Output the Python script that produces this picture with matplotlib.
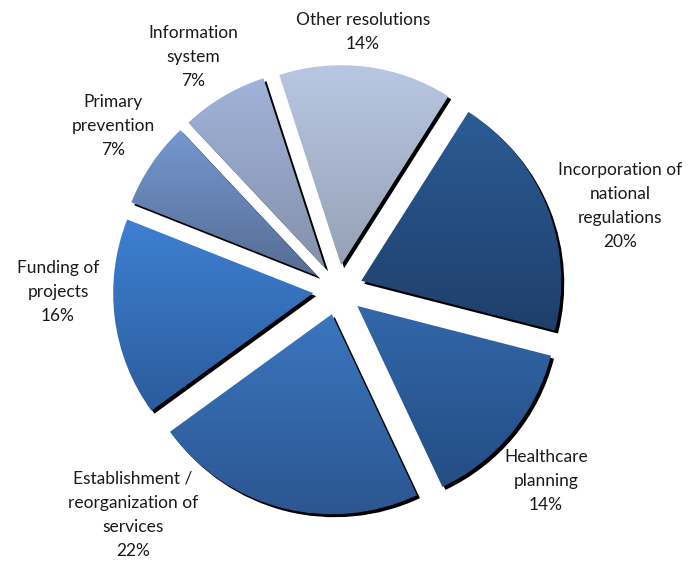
import matplotlib
matplotlib.use("Agg")
import matplotlib.pyplot as plt
import numpy as np
from matplotlib.colors import LinearSegmentedColormap
from matplotlib.patches import Wedge

plt.rcParams['font.family'] = ['Lato', 'DejaVu Sans']

categories = [
    "Other resolutions",
    "Incorporation of\nnational\nregulations",
    "Healthcare\nplanning",
    "Establishment /\nreorganization of\nservices",
    "Funding of\nprojects",
    "Primary\nprevention",
    "Information\nsystem",
]
shares = [14, 20, 14, 22, 16, 7, 7]

# top / bottom colour of the vertical gradient inside each slice
top_colors = ["#b9c7e3", "#2c5b94", "#3267a9", "#3b76bf", "#3e80d2", "#7598d1", "#a1b3da"]
bottom_colors = ["#96a1b5", "#1f3f6b", "#244d83", "#2b558f", "#2b5c9b", "#566c93", "#8491ab"]

# label anchor points (pie radius = 1)
label_pos = [(0.125, 1.29), (1.41, 0.42), (1.04, -0.955), (-1.025, -1.125),
             (-1.40, -0.01), (-1.125, 0.82), (-0.725, 1.165)]

fig = plt.figure(figsize=(6.92, 5.61), dpi=100)
ax = fig.add_axes([0, 0, 1, 1])

wedges, _ = ax.pie(shares, startangle=108, counterclock=False, radius=1,
                   explode=[0.125] * len(shares),
                   wedgeprops=dict(facecolor="none", edgecolor="none"))

grad = np.linspace(1, 0, 256).reshape(-1, 1)
for w in wedges:
    cx, cy = w.center
    # drop shadow, offset right and down
    shadow = Wedge((cx + 0.015, cy - 0.015), w.r, w.theta1, w.theta2,
                   facecolor="black", edgecolor="none", zorder=1)
    ax.add_patch(shadow)

for w, c0, c1 in zip(wedges, top_colors, bottom_colors):
    w.set_zorder(2)
    verts = w.get_path().vertices
    x0, x1 = verts[:, 0].min(), verts[:, 0].max()
    y0, y1 = verts[:, 1].min(), verts[:, 1].max()
    cmap = LinearSegmentedColormap.from_list("g", [c1, c0])
    im = ax.imshow(grad, cmap=cmap, extent=(x0, x1, y0, y1), aspect="auto",
                   origin="upper", zorder=2, interpolation="bilinear")
    im.set_clip_path(w)

for name, pct, (lx, ly) in zip(categories, shares, label_pos):
    ax.text(lx, ly, f"{name}\n{pct}%", ha="center", va="center",
            fontsize=12.5, linespacing=1.62, color="#1a1a1a", zorder=5)

ax.set_xlim(-338 / 200, (692 - 338) / 200)
ax.set_ylim(-271 / 200, 290 / 200)
ax.set_aspect("equal")
ax.axis("off")

fig.savefig("out.png", dpi=100)
